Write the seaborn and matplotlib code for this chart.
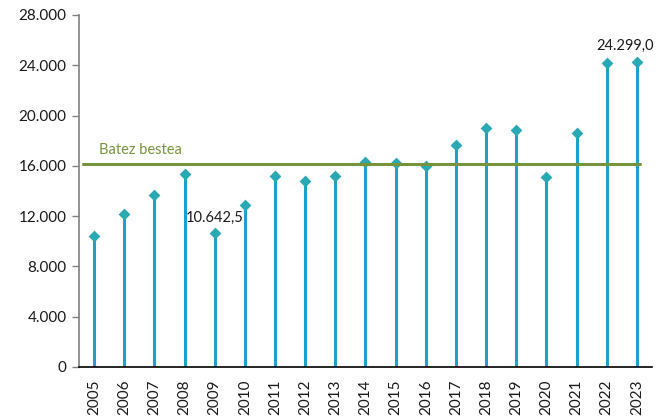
import matplotlib
matplotlib.use("Agg")
import matplotlib.pyplot as plt
import seaborn as sns
import pandas as pd
import numpy as np

years = list(range(2005, 2024))
values = [10400, 12160, 13650, 15370, 10642.5, 12855, 15210, 14810, 15210, 16300,
          16190, 16000, 17670, 19050, 18840, 15100, 18630, 24190, 24299.0]
average_label = "Batez bestea"
labelled = {2009: "10.642,5", 2023: "24.299,0"}
yticks = [0, 4000, 8000, 12000, 16000, 20000, 24000, 28000]
ytick_labels = ["0", "4.000", "8.000", "12.000", "16.000", "20.000", "24.000", "28.000"]

df = pd.DataFrame({"year": years, "value": values})
average = float(np.mean(values))

sns.set_theme(style="white")
plt.rcParams["font.family"] = ["Lato", "DejaVu Sans"]

fig = plt.figure(figsize=(6.67, 4.16), dpi=100)
ax = fig.add_axes([79/667, 1-367/416, (652-79)/667, (367-15)/416])

stem_color = "#1FA0CC"
marker_color = "#2AA9B5"
avg_color = "#77933C"

ax.vlines(df["year"], 0, df["value"], color=stem_color, linewidth=2.2, zorder=2)
sns.scatterplot(data=df, x="year", y="value", marker="D", s=36, color=marker_color,
                edgecolor=marker_color, linewidth=0, ax=ax, zorder=3, legend=False)
ax.axhline(average, xmin=(83-79)/573, xmax=(640-79)/573,
           color=avg_color, linewidth=2.2, zorder=4)
ax.text(2005.15, average + 600, average_label, color=avg_color, fontsize=10.5,
        ha="left", va="bottom")

for yr, lab in labelled.items():
    v = df.loc[df["year"] == yr, "value"].iloc[0]
    dx = -0.4 if yr == 2023 else 0
    ax.text(yr + dx, v + 650, lab, fontsize=10.5, ha="center", va="bottom", color="#1a1a1a")

ax.set_xlim(2004.5, 2023.5)
ax.set_ylim(0, 28000)
ax.set_yticks(yticks)
ax.set_yticklabels(ytick_labels, fontsize=11, color="#1a1a1a")
ax.set_xticks(years)
ax.set_xticklabels([str(y) for y in years], rotation=90, fontsize=11, color="#1a1a1a")
ax.set_xlabel("")
ax.set_ylabel("")

for s in ["top", "right"]:
    ax.spines[s].set_visible(False)
ax.spines["left"].set_color("#808080")
ax.spines["left"].set_linewidth(1.2)
ax.spines["bottom"].set_color("#000000")
ax.spines["bottom"].set_linewidth(1.2)
ax.tick_params(axis="y", which="both", left=True, length=5, width=1, color="#808080", pad=4)
ax.tick_params(axis="x", bottom=False, pad=3)

fig.savefig("out.png", dpi=100)
